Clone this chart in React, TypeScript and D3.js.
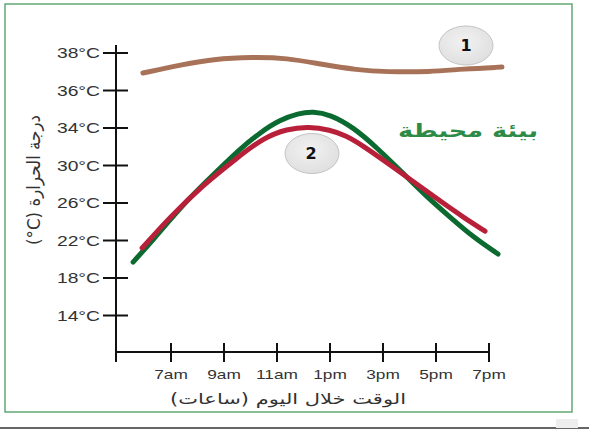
import React from "react";
import * as d3 from "d3";

// ---- data ----
const yTickValues = [38, 36, 34, 30, 26, 22, 18, 14];
const yTickLabels = ["38°C", "36°C", "34°C", "30°C", "26°C", "22°C", "18°C", "14°C"];
const xTickHours = [7, 9, 11, 13, 15, 17, 19];
const xTickLabels = ["7am", "9am", "11am", "1pm", "3pm", "5pm", "7pm"];

const brownHours = [5.94, 7.34, 8.58, 10.09, 11.38, 12.62, 14.02, 15.15, 16.77, 18.02, 19.49];
const brownTemps = [36.93, 37.36, 37.68, 37.79, 37.73, 37.41, 37.09, 36.99, 36.99, 37.15, 37.25];

const greenHours = [5.57, 6.32, 7.6, 8.85, 9.6, 10.4, 11.11, 11.8, 12.36, 13.0, 13.87, 14.77, 15.75, 16.66, 17.53, 18.4, 19.34];
const greenTemps = [19.7, 22.05, 26.32, 29.7, 31.76, 33.6, 34.43, 34.78, 34.88, 34.72, 34.05, 31.9, 29.2, 26.64, 24.5, 22.37, 20.56];

const redHours = [5.91, 6.96, 8.21, 9.49, 10.47, 11.38, 12.2, 13.0, 13.6, 14.25, 15.38, 16.4, 17.26, 18.02, 18.85];
const redTemps = [21.2, 24.5, 27.92, 30.8, 32.93, 33.9, 34.08, 33.8, 33.2, 32.1, 29.84, 27.76, 26.0, 24.5, 23.0];

const yTitle = "درجة الحرارة (C°)";
const xTitle = "الوقت خلال اليوم (ساعات)";
const envLabel = "بيئة محيطة";

export default function App() {
  const W = 589;
  const H = 429;
  const x = d3.scaleLinear().domain([7, 19]).range([171, 489]);
  const sortedTicks = [...yTickValues].sort((a, b) => a - b);
  const y = d3
    .scaleLinear()
    .domain(sortedTicks)
    .range(sortedTicks.map((_, i) => 315.5 - i * 37.5));

  const line = d3
    .line<[number, number]>()
    .x((d) => x(d[0]))
    .y((d) => y(d[1]))
    .curve(d3.curveBasis);

  const brown = line(brownHours.map((h, i) => [h, brownTemps[i]]));
  const green = line(greenHours.map((h, i) => [h, greenTemps[i]]));
  const red = line(redHours.map((h, i) => [h, redTemps[i]]));

  const axisX = x.range()[0] - 55;
  const axisY = 352;
  const font = "'Liberation Sans', Arial, Helvetica, sans-serif";
  const sx = 1.33;

  return (
    <svg
      width={W}
      height={H}
      style={{ position: "absolute", left: 0, top: 0, background: "#fff" }}
    >
      <defs>
        <radialGradient id="bub" cx="45%" cy="40%" r="65%">
          <stop offset="0%" stopColor="#f2f2f2" />
          <stop offset="100%" stopColor="#dedede" />
        </radialGradient>
      </defs>
      <rect x={0} y={0} width={W} height={H} fill="#fff" />
      <rect x={5} y={4} width={567} height={408} fill="none" stroke="#62a874" strokeWidth={1.5} />
      <line x1={0} x2={W} y1={428} y2={428} stroke="#666" strokeWidth={2} />
      <rect x={556} y={419} width={22} height={9} fill="#eeeeee" />

      {/* axes */}
      <line x1={axisX} x2={axisX} y1={45} y2={362} stroke="#111" strokeWidth={2} />
      <line x1={axisX} x2={490} y1={axisY} y2={axisY} stroke="#111" strokeWidth={2} />

      {yTickValues.map((v, i) => (
        <g key={"yt" + i} transform={`translate(0,${y(v)})`}>
          <line x1={axisX - 13} x2={axisX + 12} y1={0} y2={0} stroke="#111" strokeWidth={2} />
          <g transform={`translate(${axisX - 16},5)`}>
            <text
              transform={`scale(${sx},1)`}
              textAnchor="end"
              fontFamily={font}
              fontSize={14.5}
              fill="#333"
            >
              {yTickLabels[i]}
            </text>
          </g>
        </g>
      ))}

      {xTickHours.map((h, i) => (
        <g key={"xt" + i} transform={`translate(${x(h)},0)`}>
          <line x1={0} x2={0} y1={axisY - 9} y2={axisY + 10} stroke="#111" strokeWidth={2} />
          <g transform={`translate(0,379)`}>
            <text
              transform={`scale(${sx},1)`}
              textAnchor="middle"
              fontFamily={font}
              fontSize={13}
              fill="#333"
            >
              {xTickLabels[i]}
            </text>
          </g>
        </g>
      ))}

      <text
        x={288}
        y={404}
        textAnchor="middle"
        direction="rtl"
        fontFamily="'DejaVu Sans', sans-serif"
        fontSize={15}
        fill="#333"
        textLength={236}
        lengthAdjust="spacingAndGlyphs"
      >
        {xTitle}
      </text>

      <text
        transform="translate(40,180) rotate(-90)"
        textAnchor="middle"
        direction="rtl"
        fontFamily="'DejaVu Sans', sans-serif"
        fontSize={18}
        fill="#333"
        textLength={130}
        lengthAdjust="spacingAndGlyphs"
      >
        {yTitle}
      </text>

      {/* curves */}
      <path d={brown || ""} fill="none" stroke="#a87258" strokeWidth={5} strokeLinecap="round" />
      <path d={green || ""} fill="none" stroke="#0b6a30" strokeWidth={5} strokeLinecap="round" />
      <path d={red || ""} fill="none" stroke="#b8203a" strokeWidth={5} strokeLinecap="round" />

      {/* annotations */}
      <ellipse cx={466} cy={45.5} rx={27} ry={19.5} fill="url(#bub)" stroke="#c4c4c4" strokeWidth={1} />
      <text x={466} y={51} textAnchor="middle" fontFamily="'DejaVu Sans', sans-serif" fontWeight="bold" fontSize={16} fill="#111">
        1
      </text>
      <ellipse cx={312} cy={153.5} rx={27} ry={20} fill="url(#bub)" stroke="#c4c4c4" strokeWidth={1} />
      <text x={311} y={159} textAnchor="middle" fontFamily="'DejaVu Sans', sans-serif" fontWeight="bold" fontSize={16} fill="#111">
        2
      </text>

      <text
        x={468}
        y={137}
        textAnchor="middle"
        direction="rtl"
        fontFamily="'DejaVu Sans', sans-serif"
        fontWeight="bold"
        fontSize={19}
        fill="#2e8b47"
        textLength={140}
        lengthAdjust="spacingAndGlyphs"
      >
        {envLabel}
      </text>
    </svg>
  );
}
